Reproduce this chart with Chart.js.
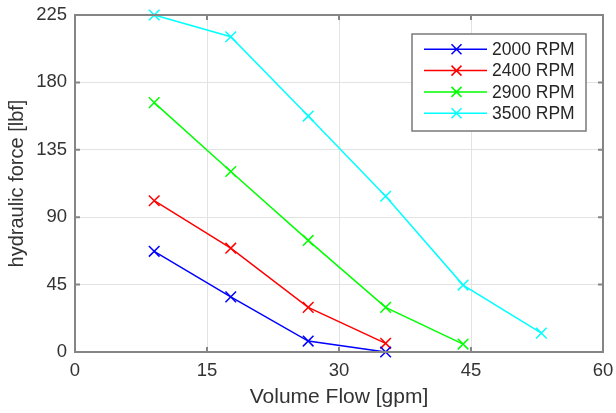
<!DOCTYPE html>
<html><head><meta charset="utf-8">
<script src="https://cdn.jsdelivr.net/npm/chart.js@4/dist/chart.umd.min.js"></script>
<style>html,body{margin:0;padding:0;background:#fff}#wrap{width:616px;height:413px;position:relative}</style>
</head><body><div id="wrap"><canvas id="c" width="616" height="413"></canvas></div>
<script>
const flow = [9.0, 17.7, 26.5, 35.3, 44.1, 53.0];
const seriesNames = ['2000 RPM', '2400 RPM', '2900 RPM', '3500 RPM'];
const rpm2000 = [67.2, 36.8, 7.3, 0];
const rpm2400 = [101, 69.3, 29.8, 5.8];
const rpm2900 = [166.5, 120.5, 74.5, 29.8, 5.3];
const rpm3500 = [225, 210.5, 157.5, 104, 44.7, 12.6];
const xTicks = [0, 15, 30, 45, 60];
const yTicks = [0, 45, 90, 135, 180, 225];
const colors = ['#0000ff', '#ff0000', '#00ff00', '#00ffff'];

const allSeries = [rpm2000, rpm2400, rpm2900, rpm3500];
const datasets = allSeries.map((vals, i) => ({
  label: seriesNames[i],
  data: vals.map((v, j) => ({x: flow[j], y: v})),
  borderColor: colors[i], backgroundColor: colors[i],
  borderWidth: 1.5, pointStyle: 'crossRot', pointRadius: 7.5, pointBorderWidth: 1.5,
  pointBorderColor: colors[i], tension: 0, fill: false, clip: false
}));

const FONT = '"Liberation Sans", Arial, sans-serif';
const boxPlugin = {
  id: 'box',
  afterDraw(chart) {
    const {ctx, chartArea: a, scales} = chart;
    ctx.save();
    ctx.strokeStyle = '#858585'; ctx.lineWidth = 2;
    ctx.beginPath();
    yTicks.forEach(t => { const p = scales.y.getPixelForValue(t);
      ctx.moveTo(a.left, p); ctx.lineTo(a.left + 5, p);
      ctx.moveTo(a.right, p); ctx.lineTo(a.right - 5, p); });
    xTicks.forEach(t => { const p = scales.x.getPixelForValue(t);
      ctx.moveTo(p, a.bottom); ctx.lineTo(p, a.bottom - 5);
      ctx.moveTo(p, a.top); ctx.lineTo(p, a.top + 5); });
    ctx.stroke();
    ctx.strokeRect(a.left, a.top, a.right - a.left, a.bottom - a.top);
    // legend
    const lx = 412, ly = 34, lw = 174, lh = 97;
    ctx.fillStyle = '#fff'; ctx.fillRect(lx, ly, lw, lh);
    ctx.strokeStyle = '#7a7a7a'; ctx.lineWidth = 1.5; ctx.strokeRect(lx, ly, lw, lh);
    ctx.font = '17.5px ' + FONT; ctx.textBaseline = 'middle'; ctx.textAlign = 'left';
    chart.data.datasets.forEach((d, i) => {
      const y = 49.3 + i * 21.3;
      ctx.strokeStyle = d.borderColor; ctx.lineWidth = 1.5;
      ctx.beginPath(); ctx.moveTo(424, y); ctx.lineTo(487, y);
      ctx.moveTo(451.5, y - 5); ctx.lineTo(461.5, y + 5);
      ctx.moveTo(451.5, y + 5); ctx.lineTo(461.5, y - 5); ctx.stroke();
      ctx.fillStyle = '#262626'; ctx.fillText(d.label, 492, y + 1);
    });
    ctx.restore();
  }
};

new Chart(document.getElementById('c'), {
  type: 'line',
  data: {datasets},
  options: {
    responsive: false, animation: false, devicePixelRatio: 1,
    layout: {padding: {left: 0, top: 15, right: 13, bottom: 0}},
    plugins: {legend: {display: false}, tooltip: {enabled: false}},
    scales: {
      x: {
        type: 'linear', min: 0, max: 60,
        afterBuildTicks: s => { s.ticks = xTicks.map(v => ({value: v})); },
        afterFit: s => { s.height = 61; s.paddingLeft = 0; s.paddingRight = 0; },
        grid: {color: '#e3e3e3', lineWidth: 1, drawTicks: false},
        border: {display: false},
        ticks: {color: '#333', font: {family: FONT, size: 18.5}, padding: 8, maxRotation: 0},
        title: {display: true, text: 'Volume Flow [gpm]', color: '#333', font: {family: FONT, size: 21}, padding: {top: 0, bottom: 3}}
      },
      y: {
        min: 0, max: 225,
        afterBuildTicks: s => { s.ticks = yTicks.map(v => ({value: v})); },
        afterFit: s => { s.width = 75; s.paddingTop = 0; s.paddingBottom = 0; },
        grid: {color: '#e3e3e3', lineWidth: 1, drawTicks: false},
        border: {display: false},
        ticks: {color: '#333', font: {family: FONT, size: 18.5}, padding: 8},
        title: {display: true, text: 'hydraulic force [lbf]', color: '#333', font: {family: FONT, size: 20}, padding: {top: 5, bottom: 0}}
      }
    }
  },
  plugins: [boxPlugin]
});
</script></body></html>
